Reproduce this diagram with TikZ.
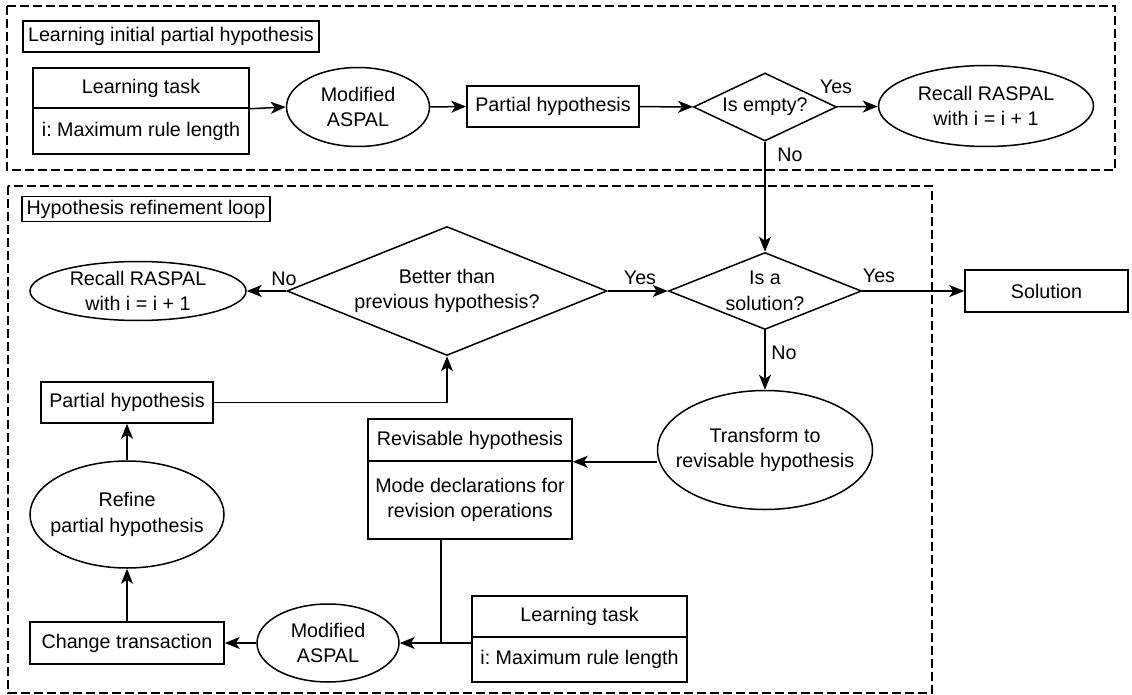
\documentclass[tikz,border=0pt]{standalone}
\usepackage{fontspec}
\setmainfont{Liberation Sans}
\usetikzlibrary{arrows.meta, shapes.geometric, positioning}
\frenchspacing

\tikzset{
  groupframe/.style={draw, line width=1.3pt, dash pattern=on 9pt off 4pt},
  framelabel/.style={draw, line width=1.3pt, inner xsep=3pt, inner ysep=0pt},
  procbox/.style={draw, rectangle, inner sep=2pt, align=center},
  oval/.style={draw, ellipse, inner xsep=-16pt, inner ysep=-8pt, align=center},
  decision/.style={draw, diamond, shape aspect=2.5, inner sep=-8pt, align=center},
  lbl/.style={inner sep=0pt},
}

\begin{document}
\begin{tikzpicture}[x=1pt, y=-1pt, line width=1.5pt,
    >={Stealth[length=15pt, width=12pt, inset=4pt]},
    font=\fontsize{19.7}{25.5}\selectfont]
  \useasboundingbox (0,0) rectangle (1132,695);

  % Dashed groups
  \draw[groupframe] (7,6) rectangle (1115,170);
  \draw[groupframe] (8,186) rectangle (932,693);
  \node[framelabel, minimum width=296pt, minimum height=31pt] (init) at (171,36.5) {Learning initial partial hypothesis};
  \node[framelabel, minimum width=248pt, minimum height=25pt] (loop) at (146,209) {Hypothesis refinement loop};

  % Learning initial partial hypothesis
  \node[procbox, minimum width=216pt, minimum height=40pt] (task1)  at (141,88)  {Learning task};
  \node[procbox, minimum width=216pt, minimum height=46pt] (task1i) at (141,131) {i: Maximum rule length};
  \node[oval, minimum width=143pt, minimum height=79pt] (asp1)    at (358,107)   {Modified\\ASPAL};
  \node[procbox, minimum width=172pt, minimum height=41pt] (part1) at (553,106.5) {Partial hypothesis};
  \node[decision, minimum width=143pt, minimum height=68pt] (empty) at (765,107) {Is empty?};
  \node[oval, minimum width=215pt, minimum height=81pt] (recall1) at (986,106)   {Recall RASPAL\\with i = i + 1};

  % Hypothesis refinement loop
  \node[oval, minimum width=216pt, minimum height=59pt] (recall2)   at (138,291)  {Recall RASPAL\\with i = i + 1};
  \node[decision, minimum width=320pt, minimum height=129pt] (better) at (447,291) {Better than\\previous hypothesis?};
  \node[decision, minimum width=193pt, minimum height=77pt] (issol)  at (765,291)  {Is a\\solution?};
  \node[procbox, minimum width=163pt, minimum height=42pt] (solution) at (1046.5,291) {Solution};
  \node[oval, minimum width=215pt, minimum height=119pt] (trans)   at (765,450)   {Transform to\\revisable hypothesis};
  \node[procbox, minimum width=204pt, minimum height=42pt] (rev)    at (470,440)   {Revisable hypothesis};
  \node[procbox, minimum width=204pt, minimum height=78pt] (revops) at (470,500)   {Mode declarations for\\revision operations};
  \node[procbox, minimum width=172pt, minimum height=41pt] (part2)  at (127,402.5) {Partial hypothesis};
  \node[oval, minimum width=194pt, minimum height=107pt] (refine)  at (127,514.5) {Refine\\partial hypothesis};
  \node[procbox, minimum width=194pt, minimum height=42pt] (change) at (127,643)   {Change transaction};
  \node[oval, minimum width=142pt, minimum height=78pt] (asp2)     at (328,643)   {Modified\\ASPAL};
  \node[procbox, minimum width=215pt, minimum height=41pt] (task2)  at (579.5,616.5) {Learning task};
  \node[procbox, minimum width=215pt, minimum height=45pt] (task2i) at (579.5,659.5) {i: Maximum rule length};
  \coordinate (join) at (441,643);

  % Branch labels
  \node[lbl] (yes1) at (836,87)  {Yes};
  \node[lbl] (no1)  at (790,155) {No};
  \node[lbl] (no2)  at (284,279) {No};
  \node[lbl] (yes2) at (640,278) {Yes};
  \node[lbl] (yes3) at (879,276) {Yes};
  \node[lbl] (no3)  at (784,353) {No};

  % Connectors
  \draw[->] (task1.south east) -- (asp1.west);
  \draw[->] (asp1.east) -- (part1.west);
  \draw[->] (part1) -- (empty);
  \draw[->] (empty) -- (recall1);
  \draw[->] (empty) -- (issol);
  \draw[->] (better) -- (issol);
  \draw[->] (better) -- (recall2);
  \draw[->] (issol) -- (solution);
  \draw[->] (issol) -- (trans);
  \draw[->] (trans.west |- rev.south east) -- (rev.south east);
  \draw (revops.south -| join) -- (join);
  \draw[->] (task2.south west |- join) -- (asp2.east);
  \draw[->] (asp2) -- (change);
  \draw[->] (change) -- (refine);
  \draw[->] (refine) -- (part2);
  \draw[->] (part2) -| (better);
\end{tikzpicture}
\end{document}
